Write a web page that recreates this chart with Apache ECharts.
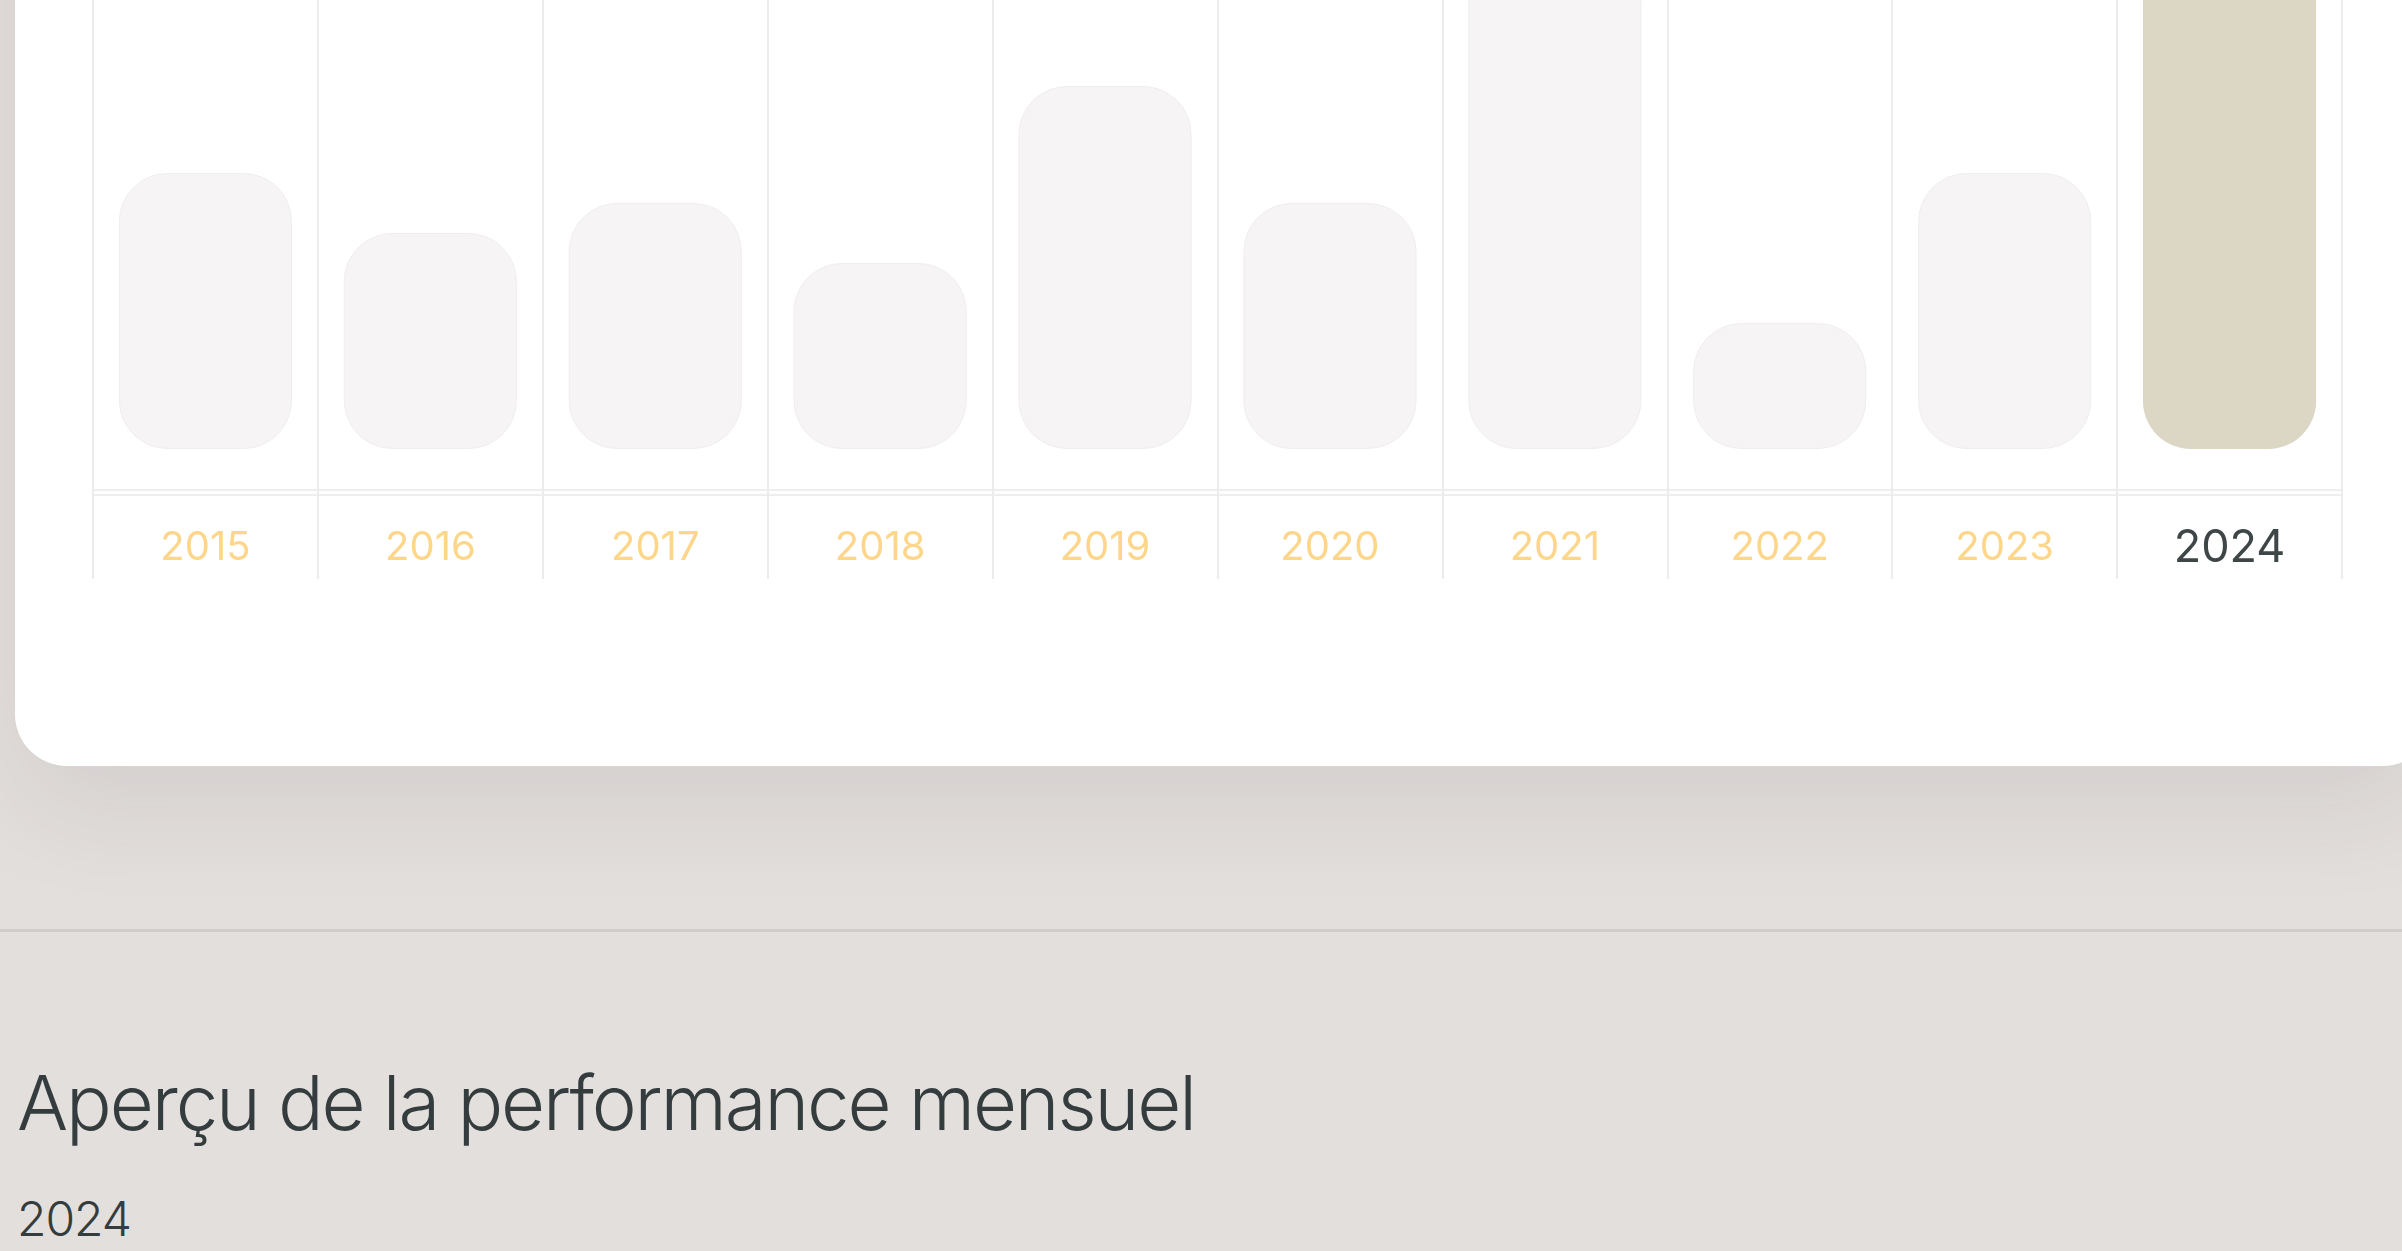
<!DOCTYPE html>
<html>
<head>
<meta charset="utf-8">
<script src="https://cdn.jsdelivr.net/npm/echarts@6/dist/echarts.min.js"></script>
<style>
  html, body {
    margin: 0;
    width: 2402px;
    height: 1251px;
    overflow: hidden;
    background: #e3dfdd;
    font-family: Inter, 'Noto Sans', sans-serif;
  }
  .card {
    position: absolute;
    left: 15px;
    top: -400px;
    width: 2420px;
    height: 1166px;
    background: #fff;
    border-radius: 52px;
    box-shadow: 0 40px 110px rgba(60, 40, 30, 0.09);
  }
  #chart {
    position: absolute;
    left: 0;
    top: -200px;
    width: 2402px;
    height: 1000px;
  }
  .rule {
    position: absolute;
    left: 0;
    right: 0;
    top: 929px;
    height: 3px;
    background: #d1ccca;
  }
  .title {
    position: absolute;
    left: 17px;
    top: 1064px;
    margin: 0;
    font-size: 76px;
    line-height: 1;
    font-weight: 300;
    letter-spacing: -2.1px;
    color: #343c3e;
    white-space: nowrap;
  }
  .subtitle {
    position: absolute;
    left: 17px;
    top: 1195px;
    font-size: 48px;
    line-height: 1;
    font-weight: 300;
    letter-spacing: -1px;
    color: #343c3e;
  }
</style>
</head>
<body>
<div class="card"></div>
<div id="chart"></div>
<div class="rule"></div>
<h1 class="title">Aperçu de la performance mensuel</h1>
<div class="subtitle">2024</div>

<script>
  // données
  const years = ['2015', '2016', '2017', '2018', '2019', '2020', '2021', '2022', '2023', '2024'];
  const values = [92, 72, 82, 62, 121, 82, 165, 42, 92, 180];
  const currentYear = '2024';

  const chart = echarts.init(document.getElementById('chart'));

  const cellLine = { color: '#ececec', width: 2 };

  const option = {
    animation: false,
    grid: [
      // zone des barres
      { left: 93, right: 60, top: 49, bottom: 351 },
      // double trait sous les barres
      { left: 93, right: 60, top: 690, height: 5, show: true, borderColor: '#eeeeee', borderWidth: 2, backgroundColor: 'transparent' },
    ],
    xAxis: [
      {
        type: 'category',
        gridIndex: 0,
        data: years,
        boundaryGap: true,
        axisLine: { show: false },
        axisTick: { show: true, length: 130, alignWithLabel: false, lineStyle: cellLine },
        splitLine: { show: true, lineStyle: cellLine },
        axisLabel: {
          margin: 74,
          formatter: v => (v === currentYear ? '{cur|' + v + '}' : '{old|' + v + '}'),
          rich: {
            cur: { fontFamily: 'Inter', fontSize: 45, lineHeight: 50, color: '#3f4648' },
            old: { fontFamily: 'Inter', fontSize: 40, lineHeight: 50, color: '#fdd68a' },
          },
        },
      },
      { type: 'category', gridIndex: 1, data: years, show: false },
    ],
    yAxis: [
      { type: 'value', gridIndex: 0, min: 0, max: 200, show: false },
      { type: 'value', gridIndex: 1, show: false },
    ],
    series: [
      {
        type: 'bar',
        xAxisIndex: 0,
        yAxisIndex: 0,
        barWidth: '77%',
        data: values.map((v, i) => ({
          value: v,
          itemStyle: years[i] === currentYear
            ? { color: '#dcd6c5', borderRadius: 48 }
            : { color: '#f6f4f4', borderColor: '#efeded', borderWidth: 1, borderRadius: 48 },
        })),
      },
    ],
  };

  chart.setOption(option);
</script>
</body>
</html>
